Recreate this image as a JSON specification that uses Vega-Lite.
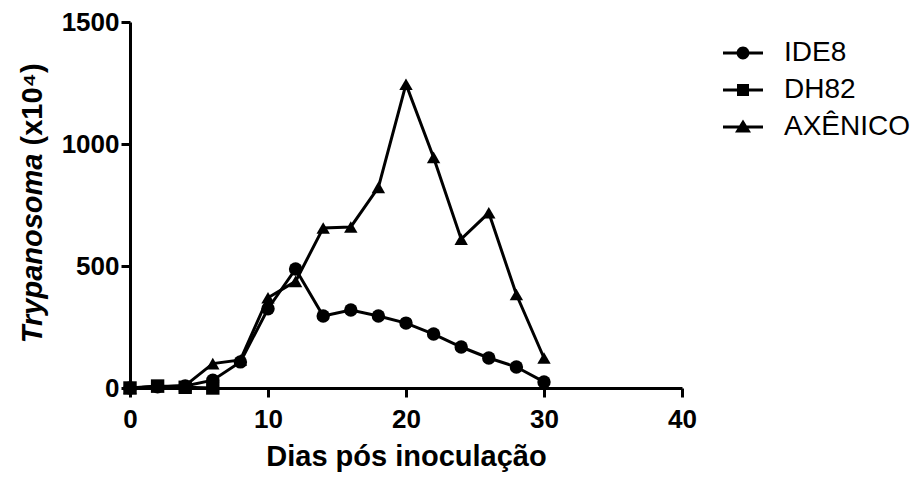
{
  "$schema": "https://vega.github.io/schema/vega-lite/v6.json",
  "width": 552,
  "height": 366,
  "autosize": {"type": "none"},
  "padding": {"left": 130, "top": 22, "right": 240, "bottom": 89},
  "background": "white",
  "data": {
    "values": [
      {"Dia": 0, "Serie": "IDE8", "Valor": 0},
      {"Dia": 2, "Serie": "IDE8", "Valor": 5},
      {"Dia": 4, "Serie": "IDE8", "Valor": 8},
      {"Dia": 6, "Serie": "IDE8", "Valor": 32},
      {"Dia": 8, "Serie": "IDE8", "Valor": 107},
      {"Dia": 10, "Serie": "IDE8", "Valor": 325},
      {"Dia": 12, "Serie": "IDE8", "Valor": 488},
      {"Dia": 14, "Serie": "IDE8", "Valor": 295},
      {"Dia": 16, "Serie": "IDE8", "Valor": 320},
      {"Dia": 18, "Serie": "IDE8", "Valor": 295},
      {"Dia": 20, "Serie": "IDE8", "Valor": 266},
      {"Dia": 22, "Serie": "IDE8", "Valor": 221},
      {"Dia": 24, "Serie": "IDE8", "Valor": 168},
      {"Dia": 26, "Serie": "IDE8", "Valor": 123},
      {"Dia": 28, "Serie": "IDE8", "Valor": 86},
      {"Dia": 30, "Serie": "IDE8", "Valor": 25},
      {"Dia": 0, "Serie": "DH82", "Valor": 0},
      {"Dia": 2, "Serie": "DH82", "Valor": 8},
      {"Dia": 4, "Serie": "DH82", "Valor": 3},
      {"Dia": 6, "Serie": "DH82", "Valor": 0},
      {"Dia": 0, "Serie": "AXÊNICO", "Valor": 0},
      {"Dia": 2, "Serie": "AXÊNICO", "Valor": 5},
      {"Dia": 4, "Serie": "AXÊNICO", "Valor": 10},
      {"Dia": 6, "Serie": "AXÊNICO", "Valor": 100},
      {"Dia": 8, "Serie": "AXÊNICO", "Valor": 115},
      {"Dia": 10, "Serie": "AXÊNICO", "Valor": 370},
      {"Dia": 12, "Serie": "AXÊNICO", "Valor": 437},
      {"Dia": 14, "Serie": "AXÊNICO", "Valor": 656},
      {"Dia": 16, "Serie": "AXÊNICO", "Valor": 660},
      {"Dia": 18, "Serie": "AXÊNICO", "Valor": 822},
      {"Dia": 20, "Serie": "AXÊNICO", "Valor": 1245},
      {"Dia": 22, "Serie": "AXÊNICO", "Valor": 945},
      {"Dia": 24, "Serie": "AXÊNICO", "Valor": 610},
      {"Dia": 26, "Serie": "AXÊNICO", "Valor": 718},
      {"Dia": 28, "Serie": "AXÊNICO", "Valor": 383},
      {"Dia": 30, "Serie": "AXÊNICO", "Valor": 123}
    ]
  },
  "layer": [
    {
      "mark": {"type": "line", "color": "black", "strokeWidth": 3},
      "encoding": {
        "x": {"field": "Dia", "type": "quantitative", "scale": {"domain": [0, 40], "nice": false},
          "axis": {"values": [0, 10, 20, 30, 40], "format": "d", "labelFlush": false, "title": "Dias pós inoculação", "titleY": 68, "titleBaseline": "middle"}},
        "y": {"field": "Valor", "type": "quantitative", "scale": {"domain": [0, 1500], "nice": false},
          "axis": {"values": [0, 500, 1000, 1500], "format": "d", "labelFlush": false, "title": "Trypanosoma", "titleFontStyle": "italic", "titleX": -98, "titleY": 131, "titleAlign": "right", "titleBaseline": "middle", "titleAngle": -90}},
        "detail": {"field": "Serie"}
      }
    },
    {
      "mark": {"type": "point", "filled": true, "color": "black", "opacity": 1, "size": 180},
      "encoding": {
        "x": {"field": "Dia", "type": "quantitative"},
        "y": {"field": "Valor", "type": "quantitative", "axis": null},
        "shape": {"field": "Serie", "type": "nominal", "scale": {"domain": ["IDE8", "DH82", "AXÊNICO"], "range": ["circle", "square", "triangle-up"]}, "legend": null}
      }
    },
    {
      "mark": {"type": "point", "filled": true, "color": "black", "opacity": 0},
      "encoding": {
        "x": {"field": "Dia", "type": "quantitative"},
        "y": {"field": "Valor", "type": "quantitative",
          "axis": {"orient": "left", "title": "(x10⁴)", "labels": false, "ticks": false, "domain": false, "grid": false, "titleX": -98, "titleY": 123, "titleAlign": "left", "titleBaseline": "middle", "titleAngle": -90}},
        "shape": {"field": "Serie", "type": "nominal",
          "scale": {"domain": ["IDE8", "DH82", "AXÊNICO"], "range": [
            "M-1,-0.075H1V0.075H-1Z M0.32,0A0.32,0.32 0 1,1 -0.32,0A0.32,0.32 0 1,1 0.32,0Z",
            "M-1,-0.075H1V0.075H-1Z M-0.3,-0.3H0.3V0.3H-0.3Z",
            "M-1,-0.075H1V0.075H-1Z M0,-0.38L0.4,0.28H-0.4Z"
          ]},
          "legend": {"title": null, "orient": "none", "legendX": 592, "legendY": 10, "padding": 0, "symbolSize": 1600, "rowPadding": 2, "labelOffset": 20, "labelFont": "Liberation Sans", "labelFontSize": 28, "labelFontWeight": "normal", "labelColor": "black",
            "encode": {"symbols": {"update": {"fill": {"value": "black"}, "opacity": {"value": 1}, "strokeWidth": {"value": 0}, "stroke": {"value": "transparent"}}}}}
        }
      }
    }
  ],
  "resolve": {"scale": {"shape": "independent"}, "axis": {"y": "independent"}},
  "config": {
    "view": {"stroke": null},
    "axis": {
      "grid": false,
      "domainColor": "black",
      "domainWidth": 3,
      "tickColor": "black",
      "tickWidth": 3,
      "tickSize": 9,
      "labelFont": "Liberation Sans",
      "labelFontSize": 26,
      "labelFontWeight": "bold",
      "labelColor": "black",
      "titleFont": "Liberation Sans",
      "titleFontSize": 29,
      "titleFontWeight": "bold",
      "titleColor": "black"
    },
    "axisX": {"labelPadding": 9},
    "axisY": {"labelPadding": 2}
  }
}
